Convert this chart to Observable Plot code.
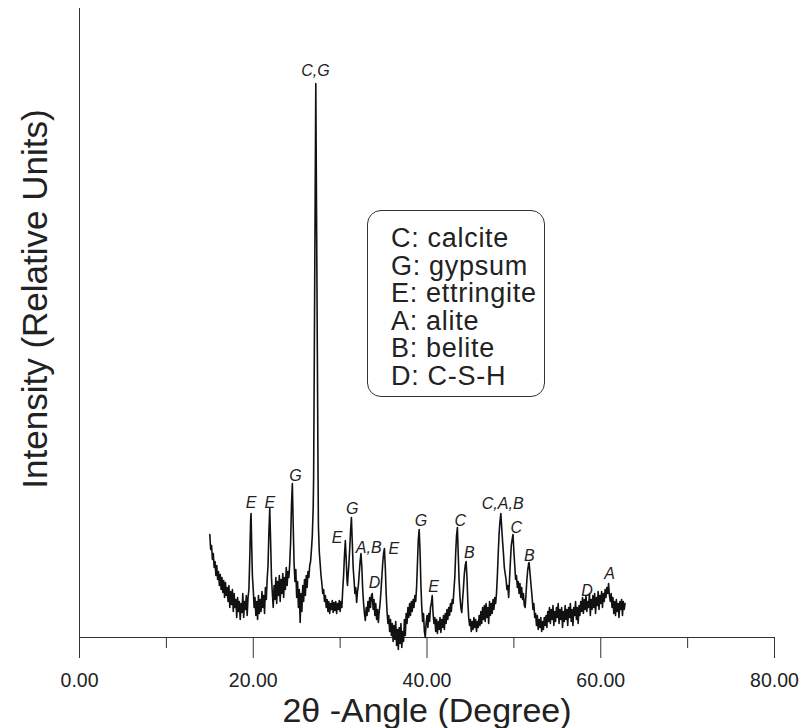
<!DOCTYPE html>
<html>
<head>
<meta charset="utf-8">
<script src="https://cdn.jsdelivr.net/npm/d3@7"></script>
<script src="https://cdn.jsdelivr.net/npm/@observablehq/plot@0.6"></script>
<style>
  html, body { margin: 0; padding: 0; background: #fff; }
  #wrap { position: relative; width: 802px; height: 728px; font-family: "Liberation Sans", Arial, Helvetica, sans-serif; }
  #legend {
    position: absolute; left: 367px; top: 210px; width: 178px; height: 187px;
    box-sizing: border-box; border: 1.2px solid #333; border-radius: 14px;
    padding: 14px 0 0 23px; font-size: 27px; letter-spacing: 0.7px; line-height: 27.6px; color: #222;
  }
</style>
</head>
<body>
<div id="wrap"><div id="legend"></div></div>
<script>
// XRD scan: [2θ (degree), intensity (relative units)]
const scan = [
[15.0,103],[15.1,88],[15.2,92],[15.3,78],[15.4,84],[15.5,70],[15.6,76],[15.7,62],[15.8,72],[15.9,58],
[16.0,66],[16.1,52],[16.2,63],[16.3,48],[16.4,60],[16.5,45],[16.6,57],[16.7,40],[16.8,55],[16.9,42],
[17.0,50],[17.1,36],[17.2,52],[17.3,30],[17.4,46],[17.5,33],[17.6,48],[17.7,26],[17.8,44],[17.9,30],
[18.0,38],[18.1,20],[18.2,40],[18.3,26],[18.4,36],[18.5,18],[18.6,34],[18.7,25],[18.8,44],[18.9,20],
[19.0,36],[19.1,28],[19.2,42],[19.3,22],[19.4,40],[19.5,48],[19.6,80],[19.7,118],[19.75,124],[19.8,100],[19.9,62],
[20.0,48],[20.1,30],[20.2,40],[20.3,22],[20.4,36],[20.5,18],[20.6,42],[20.7,24],[20.8,38],[20.9,26],
[21.0,46],[21.1,30],[21.2,42],[21.3,24],[21.4,50],[21.5,38],[21.6,58],[21.7,72],[21.8,105],[21.9,129],
[22.0,96],[22.1,60],[22.2,44],[22.3,30],[22.4,52],[22.5,38],[22.6,60],[22.7,34],[22.8,56],[22.9,42],
[23.0,62],[23.1,36],[23.2,58],[23.3,44],[23.4,64],[23.5,40],[23.6,60],[23.7,48],[23.8,70],[23.9,52],
[24.0,66],[24.1,60],[24.2,74],[24.3,95],[24.4,132],[24.5,154],[24.6,112],[24.7,74],[24.8,56],[24.9,68],
[25.0,40],[25.1,56],[25.2,30],[25.3,48],[25.4,15],[25.5,44],[25.6,26],[25.7,52],[25.8,36],[25.9,58],
[26.0,42],[26.1,62],[26.2,50],[26.3,66],[26.4,60],[26.5,72],[26.6,76],[26.7,88],[26.8,102],[26.9,130],
[26.95,160],[27.0,238],[27.1,396],[27.2,554],[27.3,403],[27.4,252],[27.46,160],[27.5,112],[27.6,86],[27.7,74],[27.8,62],[27.9,54],
[28.0,44],[28.1,48],[28.2,36],[28.3,42],[28.4,30],[28.5,38],[28.6,26],[28.7,36],[28.8,24],[28.9,34],
[29.0,28],[29.1,37],[29.2,25],[29.3,35],[29.4,27],[29.5,36],[29.6,24],[29.7,34],[29.8,28],[29.9,37],
[30.0,26],[30.1,36],[30.2,30],[30.3,48],[30.4,62],[30.5,82],[30.6,97],[30.7,78],[30.8,56],[30.85,52],[30.9,60],
[31.0,72],[31.1,88],[31.2,106],[31.3,120],[31.4,95],[31.5,70],[31.6,58],[31.7,44],[31.8,50],[31.9,35],
[32.0,46],[32.1,52],[32.2,64],[32.3,76],[32.4,84],[32.5,70],[32.6,48],[32.7,34],[32.8,24],[32.9,17],
[33.0,30],[33.1,22],[33.2,36],[33.3,26],[33.4,40],[33.5,30],[33.6,42],[33.7,44],[33.8,28],[33.9,38],
[34.0,22],[34.1,34],[34.2,18],[34.3,28],[34.4,15],[34.5,26],[34.6,34],[34.7,46],[34.8,60],[34.9,74],
[35.0,84],[35.1,89],[35.2,70],[35.3,44],[35.4,26],[35.5,14],[35.6,22],[35.7,6],[35.8,18],[35.9,2],
[36.0,14],[36.1,-4],[36.2,12],[36.3,-2],[36.4,16],[36.5,-8],[36.6,8],[36.7,-12],[36.8,10],[36.9,-6],
[37.0,14],[37.1,-10],[37.2,6],[37.3,-4],[37.4,18],[37.5,2],[37.6,24],[37.7,14],[37.8,30],[37.9,20],
[38.0,34],[38.1,22],[38.2,36],[38.3,26],[38.4,38],[38.5,30],[38.6,42],[38.7,36],[38.8,50],[38.9,74],
[39.0,98],[39.1,108],[39.2,86],[39.3,52],[39.4,30],[39.5,16],[39.6,24],[39.7,6],[39.8,0],[39.9,14],
[40.0,22],[40.1,10],[40.2,24],[40.3,16],[40.4,30],[40.5,34],[40.6,42],[40.7,24],[40.8,14],[40.9,20],
[41.0,6],[41.1,18],[41.2,4],[41.3,16],[41.4,8],[41.5,20],[41.6,5],[41.7,18],[41.8,10],[41.9,22],
[42.0,8],[42.1,24],[42.2,14],[42.3,28],[42.4,18],[42.5,30],[42.6,22],[42.7,34],[42.8,26],[42.9,38],
[43.0,34],[43.1,48],[43.2,60],[43.3,84],[43.4,102],[43.5,110],[43.6,82],[43.7,56],[43.8,40],[43.9,30],
[44.0,25],[44.1,38],[44.2,50],[44.3,64],[44.4,72],[44.5,76],[44.6,60],[44.7,36],[44.8,20],[44.9,12],
[45.0,18],[45.1,6],[45.2,16],[45.3,8],[45.4,20],[45.5,10],[45.6,18],[45.7,6],[45.8,16],[45.9,10],
[46.0,22],[46.1,12],[46.2,26],[46.3,14],[46.4,30],[46.5,18],[46.6,32],[46.7,16],[46.8,34],[46.9,20],
[47.0,30],[47.1,14],[47.2,36],[47.3,22],[47.4,34],[47.5,24],[47.6,38],[47.7,28],[47.8,40],[47.9,34],
[48.0,44],[48.1,62],[48.2,84],[48.3,104],[48.4,116],[48.5,124],[48.6,110],[48.7,96],[48.8,84],[48.9,70],
[49.0,64],[49.1,58],[49.2,48],[49.3,52],[49.4,40],[49.5,58],[49.6,76],[49.7,92],[49.8,98],[49.9,103],
[50.0,86],[50.1,72],[50.2,58],[50.3,62],[50.4,50],[50.5,56],[50.6,44],[50.7,54],[50.8,40],[50.9,50],
[51.0,38],[51.1,44],[51.2,32],[51.3,30],[51.4,44],[51.5,58],[51.6,68],[51.7,74],[51.75,75],[51.8,70],[51.9,60],
[52.0,50],[52.1,40],[52.2,28],[52.3,34],[52.4,20],[52.5,24],[52.6,12],[52.7,22],[52.8,8],[52.9,18],
[53.0,10],[53.1,20],[53.2,6],[53.3,16],[53.4,8],[53.5,20],[53.6,12],[53.7,22],[53.8,10],[53.9,26],
[54.0,16],[54.1,30],[54.2,14],[54.3,28],[54.4,18],[54.5,32],[54.6,12],[54.7,26],[54.8,16],[54.9,30],
[55.0,20],[55.1,34],[55.2,14],[55.3,28],[55.4,18],[55.5,30],[55.6,10],[55.7,26],[55.8,16],[55.9,32],
[56.0,18],[56.1,28],[56.2,12],[56.3,30],[56.4,20],[56.5,34],[56.6,16],[56.7,28],[56.8,12],[56.9,30],
[57.0,22],[57.1,36],[57.2,18],[57.3,30],[57.4,14],[57.5,32],[57.6,22],[57.7,36],[57.8,26],[57.9,40],
[58.0,24],[58.1,38],[58.2,28],[58.3,42],[58.4,26],[58.5,36],[58.6,30],[58.7,44],[58.8,22],[58.9,38],
[59.0,28],[59.1,42],[59.2,30],[59.3,44],[59.4,24],[59.5,40],[59.6,32],[59.7,46],[59.8,28],[59.9,42],
[60.0,34],[60.1,46],[60.2,30],[60.3,44],[60.4,36],[60.5,48],[60.6,40],[60.7,50],[60.8,44],[60.9,54],
[61.0,42],[61.1,36],[61.2,44],[61.3,30],[61.4,40],[61.5,24],[61.6,36],[61.7,22],[61.8,38],[61.9,26],
[62.0,34],[62.1,20],[62.2,36],[62.3,28],[62.4,38],[62.5,22],[62.6,36],[62.7,28],[62.8,34]
];

// Peak annotations (label, 2θ position, height of label)
const peakLabels = ["C,G","E","E","G","E","G","A,B","D","E","G","E","C","B","C,A,B","C","B","D","A"];
const peakAngle  = [27.16,19.76,21.9,24.86,29.65,31.38,33.29,33.95,36.17,39.32,40.77,43.84,44.88,48.71,50.29,51.78,58.42,61.02];
const peakHeight = [567,135,135,162,100,129,90,55,89,117,51,117,85,134,110,82,47,64];

// Legend entries
const legendItems = ["C: calcite","G: gypsum","E: ettringite","A: alite","B: belite","D: C-S-H"];

// Axis ticks
const majorTicks = [0,20,40,60,80];
const minorTicks = [10,30,50,70];

const peaks = peakLabels.map((label, i) => ({label, angle: peakAngle[i], height: peakHeight[i]}));

const chart = Plot.plot({
  width: 802,
  height: 728,
  marginLeft: 79,
  marginRight: 28,
  marginTop: 8,
  marginBottom: 91,
  x: {domain: [0, 80], axis: null},
  y: {domain: [0, 629], axis: null},
  style: {fontFamily: '"Liberation Sans", Arial, Helvetica, sans-serif', background: "white", color: "#222", overflow: "visible"},
  marks: [
    Plot.axisX(majorTicks, {tickSize: 21, tickPadding: 15, tickFormat: d => d.toFixed(2), fontSize: 19.5, label: null, stroke: "#333"}),
    Plot.axisX(minorTicks, {tickSize: 11, tickFormat: () => "", label: null, stroke: "#333"}),
    Plot.ruleY([0], {stroke: "#333", strokeWidth: 1}),
    Plot.ruleX([0], {stroke: "#333", strokeWidth: 1}),
    Plot.line(scan, {x: d => d[0], y: d => d[1], stroke: "#111", strokeWidth: 1.6}),
    Plot.text(peaks, {x: "angle", y: "height", text: "label", fontStyle: "italic", fontSize: 16, fill: "#222"}),
    Plot.text(["Intensity (Relative Units)"], {frameAnchor: "left", textAnchor: "middle", lineAnchor: "middle", rotate: -90, dx: -44, dy: -24, fontSize: 35, fill: "#222"}),
    Plot.text(["2θ -Angle (Degree)"], {frameAnchor: "bottom", textAnchor: "middle", lineAnchor: "middle", dy: 74, fontSize: 34, fill: "#222"})
  ]
});

const wrap = document.getElementById("wrap");
wrap.insertBefore(chart, wrap.firstChild);
const legend = document.getElementById("legend");
legendItems.forEach(t => {
  const d = document.createElement("div");
  d.textContent = t;
  legend.appendChild(d);
});
</script>
</body>
</html>
